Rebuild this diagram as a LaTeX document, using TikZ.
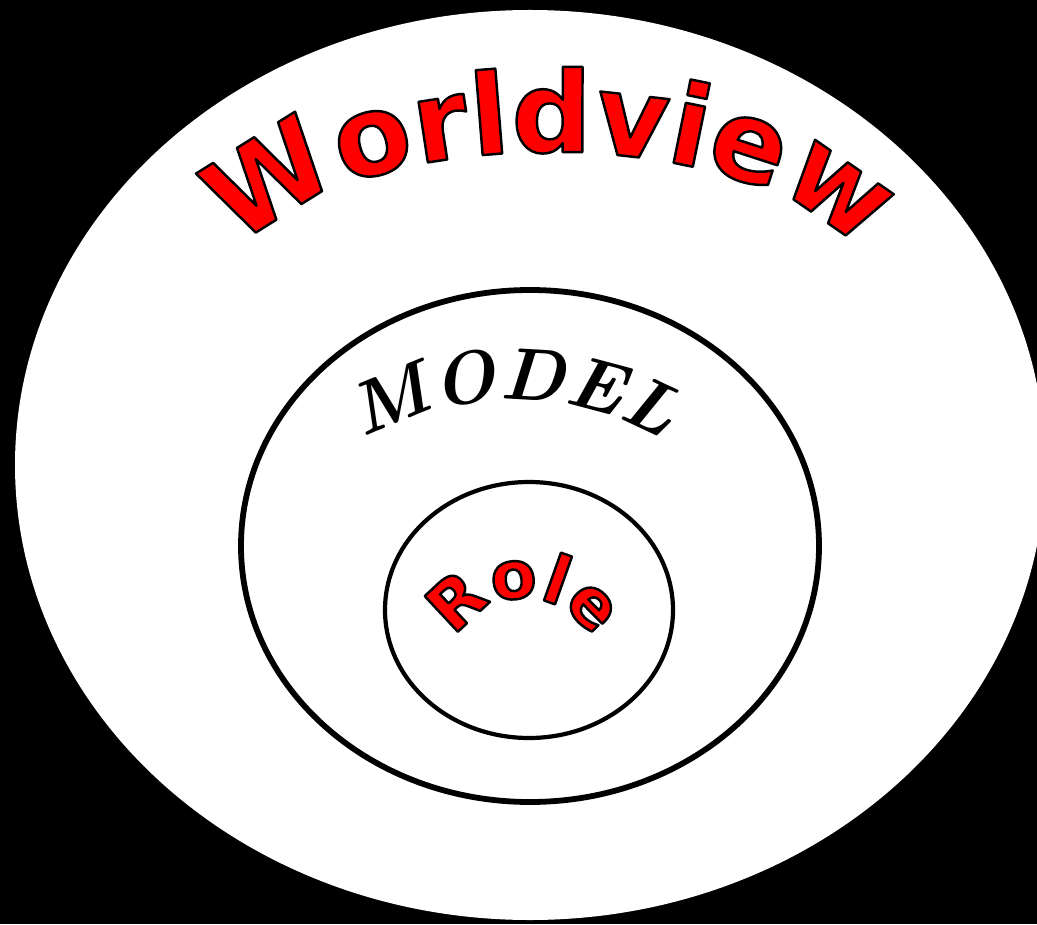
\documentclass[tikz,border=0pt]{standalone}
\usepackage{fontspec}
\usetikzlibrary{decorations.text}
\newfontfamily\heavyfont{DejaVu Sans Bold}
\newcommand\outlined{\special{pdf:literal direct 0 0 0 RG 1.4 w 1 j 2 Tr}}
\newcommand\unoutlined{\special{pdf:literal direct 0 Tr}}

\begin{document}
\begin{tikzpicture}[x=0.02cm, y=0.02cm,
  ring/.style={draw=black, line width=#1},
  curved/.style={decorate, decoration={text along path, text align=center, text={#1}}}]
  \useasboundingbox (0,0) rectangle (1037,924);
  \fill[black] (0,0) rectangle (1037,924);
  \clip (0,0) rectangle (1037,924);
  \coordinate (world) at (530,459);
  \coordinate (model) at (530,378);
  \coordinate (role) at (529,314);
  \coordinate (wv) at (550,630);
  \coordinate (md) at (514,224);
  \coordinate (rl) at (524,250);
  \fill[white] (world) ellipse [x radius=515, y radius=455];
  \draw[ring=3.3pt] (model) ellipse [x radius=289, y radius=256];
  \draw[ring=2.4pt] (role) ellipse [x radius=144, y radius=128];
  \path[curved={|\fontsize{42}{48}\selectfont\bfseries\itshape\unoutlined|MODEL}]
    (md) ++(150:300) arc[start angle=150, end angle=30, radius=300];
  \path[curved={|\heavyfont\fontsize{38}{40}\selectfont\color{red}\outlined|Role}]
    (rl) ++(170:76) arc[start angle=170, end angle=10, radius=76];
  \path[curved={|\heavyfont\fontsize{63.8}{66}\selectfont\color{red}\outlined|Worldview}]
    (wv) ++(180:320 and 142) arc[start angle=180, end angle=0, x radius=320, y radius=142];
\end{tikzpicture}
\end{document}
